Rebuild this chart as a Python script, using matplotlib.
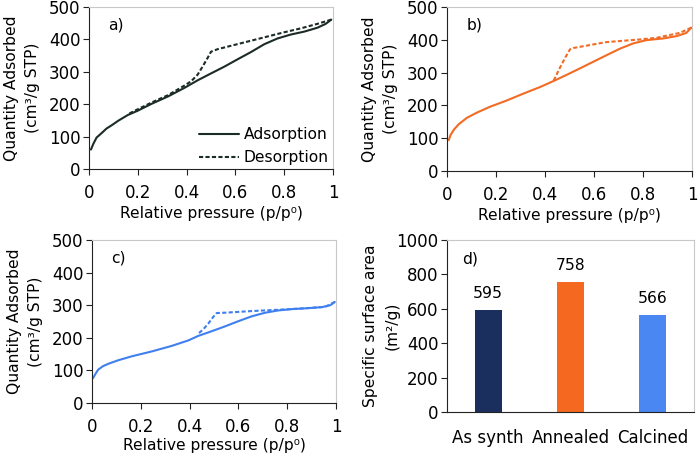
import matplotlib
matplotlib.use("Agg")
import matplotlib.pyplot as plt
import numpy as np

plt.rcParams['font.family'] = ['DejaVu Sans']

# ---- data ----
# Panel a (as synthesized)
a_ads_p = [0.008, 0.018, 0.031, 0.052, 0.072, 0.093, 0.12, 0.16, 0.2, 0.256, 0.324, 0.39, 0.446,
           0.5, 0.555, 0.61, 0.664, 0.718, 0.773, 0.827, 0.882, 0.936, 0.97, 0.993]
a_ads_v = [60, 78, 97, 111, 125, 135, 149, 167, 180, 201, 224, 250, 274,
           295, 316, 339, 361, 385, 403, 415, 424, 436, 448, 461]
a_des_p = [0.993, 0.936, 0.868, 0.8, 0.732, 0.664, 0.596, 0.528, 0.5, 0.487, 0.467, 0.446,
           0.419, 0.39, 0.324, 0.256, 0.188, 0.16]
a_des_v = [461, 448, 434, 422, 409, 396, 383, 370, 362, 344, 318, 292,
           271, 257, 228, 205, 180, 169]

# Panel b (annealed)
b_ads_p = [0.007, 0.014, 0.027, 0.047, 0.081, 0.122, 0.176, 0.244, 0.312, 0.38, 0.434, 0.488,
           0.543, 0.597, 0.651, 0.706, 0.76, 0.814, 0.882, 0.936, 0.977, 0.997]
b_ads_v = [94, 109, 125, 142, 162, 178, 196, 215, 236, 256, 274, 293,
           313, 333, 353, 373, 389, 399, 404, 411, 421, 437]
b_des_p = [0.997, 0.95, 0.855, 0.787, 0.719, 0.651, 0.583, 0.516, 0.502, 0.482, 0.461, 0.441, 0.434]
b_des_v = [437, 421, 406, 401, 397, 393, 384, 375, 371, 345, 315, 284, 274]

# Panel c (calcined)
c_ads_p = [0.004, 0.014, 0.025, 0.045, 0.066, 0.107, 0.162, 0.244, 0.326, 0.395, 0.436, 0.49,
           0.545, 0.6, 0.655, 0.71, 0.764, 0.819, 0.888, 0.942, 0.977, 0.995]
c_ads_v = [76, 89, 102, 113, 120, 131, 143, 158, 175, 192, 206, 220,
           235, 251, 266, 277, 284, 288, 291, 294, 300, 310]
c_des_p = [0.995, 0.956, 0.86, 0.764, 0.655, 0.545, 0.511, 0.497, 0.477, 0.456, 0.436]
c_des_v = [310, 295, 290, 286, 282, 277, 276, 264, 244, 226, 213]

# Panel d
d_labels = ['As synth', 'Annealed', 'Calcined']
d_values = [595, 758, 566]

col_a = '#1b2b27'
col_b = '#f26b25'
col_c = '#3f7ff0'
bar_cols = ['#1b2f5e', '#f4691f', '#4b87f2']

W, H = 700, 459
fig = plt.figure(figsize=(W / 100, H / 100), dpi=100)

def add_ax(l, r, t, b):
    return fig.add_axes([l / W, 1 - b / H, (r - l) / W, (b - t) / H])

axa = add_ax(89, 333, 7, 169)
axb = add_ax(447, 692, 7, 171)
axc = add_ax(92, 336, 240, 403)
axd = add_ax(447, 694, 240, 412)

fs = 12
fl = 11.2
ylab = 'Quantity Adsorbed\n(cm³/g STP)'
xlab = 'Relative pressure (p/p⁰)'

def style(ax):
    for s in ['top', 'right']:
        ax.spines[s].set_color('#c8c8c8')
        ax.spines[s].set_linewidth(0.8)
    for s in ['left', 'bottom']:
        ax.spines[s].set_color('#222222')
        ax.spines[s].set_linewidth(0.8)
    ax.tick_params(direction='out', length=4, width=0.8, labelsize=fs, colors='#222222', labelcolor='black')
    ax.tick_params(axis='y', pad=2)
    ax.tick_params(axis='x', pad=7)

for ax, ap, av, dp, dv, col, tag in [
    (axa, a_ads_p, a_ads_v, a_des_p, a_des_v, col_a, 'a)'),
    (axb, b_ads_p, b_ads_v, b_des_p, b_des_v, col_b, 'b)'),
    (axc, c_ads_p, c_ads_v, c_des_p, c_des_v, col_c, 'c)'),
]:
    ax.plot(ap, av, color=col, lw=1.5, ls='-', label='Adsorption', solid_capstyle='round')
    ax.plot(dp, dv, color=col, lw=1.5, ls=(0, (2, 1.1)), label='Desorption')
    ax.set_xlim(0, 1)
    ax.set_ylim(0, 500)
    ax.set_xticks([0, 0.2, 0.4, 0.6, 0.8, 1])
    ax.set_xticklabels(['0', '0.2', '0.4', '0.6', '0.8', '1'])
    ax.set_yticks([0, 100, 200, 300, 400, 500])
    ax.set_xlabel(xlab, fontsize=fl, labelpad=3)
    ax.set_ylabel(ylab, fontsize=fl, linespacing=1.5)
    ax.yaxis.set_label_coords(-0.2, 0.5)
    ax.text(0.08, 0.89, tag, transform=ax.transAxes, fontsize=fl, va='center', ha='left')
    style(ax)

axc.xaxis.labelpad = 1

leg = axa.legend(loc='lower right', frameon=False, fontsize=fl, handlelength=2.6,
                 handletextpad=0.3, borderaxespad=0.0, borderpad=0.25, labelspacing=0.5)

x = np.arange(len(d_labels))
axd.bar(x, d_values, width=0.33, color=bar_cols)
for xi, v in zip(x, d_values):
    axd.text(xi, v + 50, str(v), ha='center', va='bottom', fontsize=fl)
axd.set_xlim(-0.5, 2.5)
axd.set_ylim(0, 1000)
axd.set_yticks([0, 200, 400, 600, 800, 1000])
axd.set_xticks(x)
axd.set_xticklabels(d_labels, fontsize=11.5)
axd.set_ylabel('Specific surface area\n(m²/g)', fontsize=fl, linespacing=1.55)
axd.yaxis.set_label_coords(-0.19, 0.5)
axd.text(0.06, 0.89, 'd)', transform=axd.transAxes, fontsize=fl, va='center', ha='left')
style(axd)
axd.tick_params(axis='x', length=0, pad=12)

fig.savefig('out.png', dpi=100)
